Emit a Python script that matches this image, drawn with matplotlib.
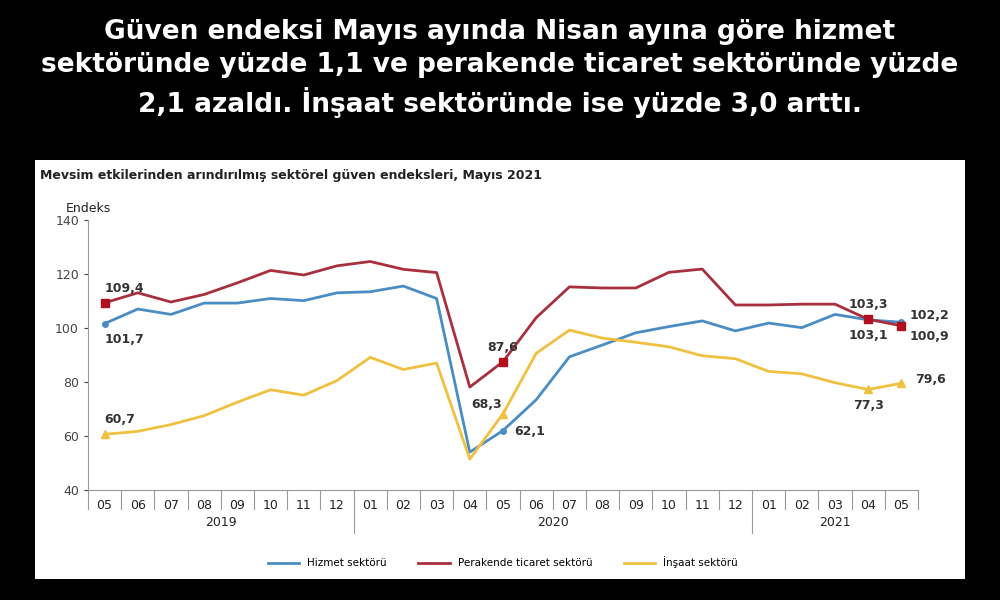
import matplotlib
matplotlib.use("Agg")
import matplotlib.pyplot as plt

months = ["05", "06", "07", "08", "09", "10", "11", "12", "01", "02", "03", "04", "05",
          "06", "07", "08", "09", "10", "11", "12", "01", "02", "03", "04", "05"]
years = ["2019", "2020", "2021"]
hizmet = [101.7, 107.1, 105.1, 109.3, 109.3, 111.0, 110.2, 113.1, 113.5, 115.6, 111.0, 54.1, 62.1,
          73.5, 89.4, 93.8, 98.3, 100.6, 102.7, 99.0, 101.9, 100.2, 105.1, 103.1, 102.2]
perakende = [109.4, 113.1, 109.7, 112.5, 116.8, 121.4, 119.7, 123.1, 124.7, 121.8, 120.6, 78.2, 87.6,
             103.9, 115.3, 114.9, 114.9, 120.7, 121.9, 108.6, 108.6, 108.9, 108.9, 103.3, 100.9]
insaat = [60.7, 61.8, 64.3, 67.6, 72.6, 77.2, 75.2, 80.6, 89.2, 84.7, 87.1, 51.5, 68.3,
          90.7, 99.3, 96.3, 94.8, 93.1, 89.8, 88.7, 84.0, 83.1, 79.8, 77.3, 79.6]

BLUE, RED, YEL = "#4a8cc4", "#a8303e", "#f0c040"

fig = plt.figure(figsize=(10, 6), dpi=100, facecolor="black")
fig.text(0.5, 0.968, "Güven endeksi Mayıs ayında Nisan ayına göre hizmet\n"
         "sektöründe yüzde 1,1 ve perakende ticaret sektöründe yüzde\n"
         "2,1 azaldı. İnşaat sektöründe ise yüzde 3,0 arttı.",
         ha="center", va="top", color="white", fontsize=19, fontweight="bold",
         family="DejaVu Sans", linespacing=1.35)

panel = fig.add_axes([0.035, 0.035, 0.93, 0.698])
panel.set_facecolor("white")
panel.set_xticks([]); panel.set_yticks([])
for s in panel.spines.values():
    s.set_visible(False)
panel.text(0.005, 0.955, "Mevsim etkilerinden arındırılmış sektörel güven endeksleri, Mayıs 2021",
           transform=panel.transAxes, fontsize=9, fontweight="bold", color="#222")

ax = fig.add_axes([0.088, 0.183, 0.83, 0.45])
x = list(range(len(months)))
ax.plot(x, hizmet, color=BLUE, lw=2, label="Hizmet sektörü")
ax.plot(x, perakende, color=RED, lw=2, label="Perakende ticaret sektörü")
ax.plot(x, insaat, color=YEL, lw=2, label="İnşaat sektörü")
for i in [0, 12, 23, 24]:
    ax.plot(x[i], hizmet[i], "o", color=BLUE, ms=4)
    ax.plot(x[i], perakende[i], "s", color="#b01020", ms=6)
    ax.plot(x[i], insaat[i], "^", color=YEL, ms=6)

kw = dict(fontsize=9, fontweight="bold", color="#333")
ax.annotate("109,4", (0, perakende[0]), (0, 8), textcoords="offset points", ha="left", **kw)
ax.annotate("101,7", (0, hizmet[0]), (0, -14), textcoords="offset points", ha="left", **kw)
ax.annotate("60,7", (0, insaat[0]), (0, 8), textcoords="offset points", ha="left", **kw)
ax.annotate("87,6", (12, perakende[12]), (0, 8), textcoords="offset points", ha="center", **kw)
ax.annotate("68,3", (12, insaat[12]), (-1, 4), textcoords="offset points", ha="right", **kw)
ax.annotate("62,1", (12, hizmet[12]), (8, -3), textcoords="offset points", ha="left", **kw)
ax.annotate("103,3", (23, perakende[23]), (0, 8), textcoords="offset points", ha="center", **kw)
ax.annotate("103,1", (23, hizmet[23]), (0, -14), textcoords="offset points", ha="center", **kw)
ax.annotate("77,3", (23, insaat[23]), (0, -14), textcoords="offset points", ha="center", **kw)
ax.annotate("102,2", (24, hizmet[24]), (6, 2), textcoords="offset points", ha="left", **kw)
ax.annotate("100,9", (24, perakende[24]), (6, -10), textcoords="offset points", ha="left", **kw)
ax.annotate("79,6", (24, insaat[24]), (10, 0), textcoords="offset points", ha="left", **kw)

ax.set_xlim(-0.5, 24.5)
ax.set_ylim(40, 140)
ax.set_yticks(range(40, 141, 20))
ax.tick_params(axis="y", labelsize=9, length=3, colors="#444")
ax.set_xticks(x)
ax.set_xticklabels(months, fontsize=9, color="#222")
ax.tick_params(axis="x", length=0, pad=6)
for xb in [i - 0.5 for i in range(26)]:
    ax.plot([xb, xb], [0, -0.07], transform=ax.get_xaxis_transform(), color="#999", lw=0.8, clip_on=False)
for xb in [7.5, 19.5]:
    ax.plot([xb, xb], [-0.07, -0.16], transform=ax.get_xaxis_transform(), color="#999", lw=0.8, clip_on=False)
for xc, yr in zip([3.5, 13.5, 22.0], years):
    ax.text(xc, -0.12, yr, transform=ax.get_xaxis_transform(), ha="center", va="center", fontsize=9, color="#222")
for s in ["top", "right"]:
    ax.spines[s].set_visible(False)
for s in ["left", "bottom"]:
    ax.spines[s].set_color("#999")
ax.text(-0.5, 143, "Endeks", fontsize=9, color="#222", ha="center")

ax.legend(loc="upper center", bbox_to_anchor=(0.5, -0.21), ncol=3, frameon=False, fontsize=7.5,
          handlelength=3, columnspacing=3)
fig.savefig("out.png", dpi=100, facecolor="black")
